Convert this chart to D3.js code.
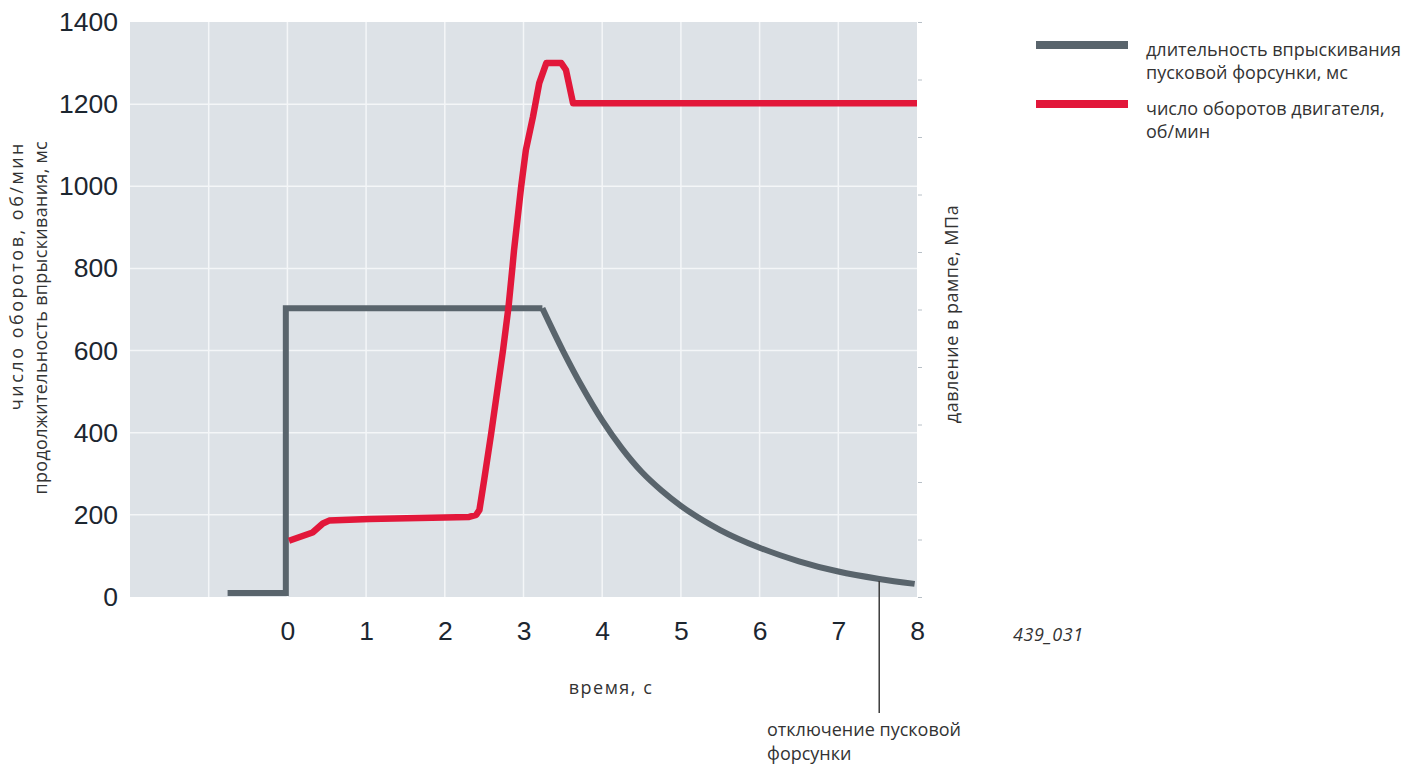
<!DOCTYPE html>
<html><head><meta charset="utf-8">
<script src="https://cdn.jsdelivr.net/npm/d3@7"></script>
<style>
html,body{margin:0;padding:0;background:#fff;}
svg{display:block;}
</style></head>
<body>
<svg id="chart" width="1404" height="767"></svg>
<script>
// ---- data ----
const xTicks = [0,1,2,3,4,5,6,7,8];
const yTicks = [0,200,400,600,800,1000,1200,1400];
const rightTicks = [0,1,2,3,4,5,6,7,8,9,10];

// injection duration of start injector (grey)
const grayT = [-0.76, -0.02, -0.02, 3.24];
const grayV = [10, 10, 703, 703];
const grayDecayT = [3.24, 3.50, 3.75, 4.00, 4.25, 4.50, 4.75, 5.00, 5.50, 6.00, 6.50, 7.00, 7.52, 7.97];
const grayDecayV = [703, 600, 510, 430, 362, 305, 260, 222, 163, 120, 87, 62, 44, 32];

// engine speed (red)
const redT = [0.02, 0.32, 0.45, 0.53, 1.04, 2.31, 2.40, 2.44, 2.50, 2.59, 2.74, 2.81, 2.86, 2.88, 2.97, 3.03, 3.12, 3.20, 3.29, 3.48, 3.54, 3.63, 8.0];
const redV = [137, 157, 179, 186, 190, 195, 200, 212, 285, 399, 601, 707, 804, 845, 999, 1088, 1169, 1251, 1300, 1300, 1283, 1202, 1202];

const legendLabels = [["длительность впрыскивания","пусковой форсунки, мс"],["число оборотов двигателя,","об/мин"]];
const legendColors = ["#59646c","#e2173a"];
const annotationT = 7.52;

// ---- drawing ----
const svg = d3.select("#chart");
const x = d3.scaleLinear().domain([-2, 8]).range([130, 917]);
const y = d3.scaleLinear().domain([0, 1400]).range([597, 22]);
const yR = d3.scaleLinear().domain([0, 10]).range([597, 22]);

const tickFont = "'Liberation Sans', Arial, sans-serif";
const textFont = "'Open Sans', 'Noto Sans', sans-serif";
const textSize = 18;

svg.append("rect").attr("x", x(-2)).attr("y", y(1400))
  .attr("width", x(8)-x(-2)).attr("height", y(0)-y(1400)).attr("fill", "#dde2e7");

// grid
svg.append("g").selectAll("line").data(d3.range(-1, 8))
  .join("line").attr("x1", d=>x(d)).attr("x2", d=>x(d)).attr("y1", y(0)).attr("y2", y(1400))
  .attr("stroke", "#f4f6f8").attr("stroke-width", 1.5);
svg.append("g").selectAll("line").data(yTicks.filter(d=>d>0 && d<1400))
  .join("line").attr("x1", x(-2)).attr("x2", x(8)).attr("y1", d=>y(d)).attr("y2", d=>y(d))
  .attr("stroke", "#f4f6f8").attr("stroke-width", 1.5);

// axes
const gl = svg.append("g").attr("transform", `translate(${x(-2)},0)`)
  .call(d3.axisLeft(y).tickValues(yTicks).tickFormat(d3.format("d")).tickSize(0).tickPadding(12));
gl.select(".domain").remove();
gl.selectAll("text").attr("font-family", tickFont).attr("font-size", 26.5).attr("fill", "#1c2630");

const gb = svg.append("g").attr("transform", `translate(0,${y(0)})`)
  .call(d3.axisBottom(x).tickValues(xTicks).tickFormat(d3.format("d")).tickSize(0).tickPadding(24));
gb.select(".domain").remove();
gb.selectAll("text").attr("font-family", tickFont).attr("font-size", 26.5).attr("fill", "#1c2630");

const gr = svg.append("g").attr("transform", `translate(${x(8)+1},0)`)
  .call(d3.axisRight(yR).tickValues(rightTicks).tickSize(4).tickFormat(""));
gr.select(".domain").remove();
gr.selectAll("line").attr("stroke", "#b8c0c7").attr("stroke-width", 1);

// lines
const line = d3.line().x(d=>x(d[0])).y(d=>y(d[1]));
const smooth = d3.line().x(d=>x(d[0])).y(d=>y(d[1])).curve(d3.curveMonotoneX);

svg.append("path").datum(grayT.map((t,i)=>[t, grayV[i]]))
  .attr("d", line).attr("fill", "none").attr("stroke", legendColors[0])
  .attr("stroke-width", 6).attr("stroke-linejoin", "miter");
svg.append("path").datum(grayDecayT.map((t,i)=>[t, grayDecayV[i]]))
  .attr("d", smooth).attr("fill", "none").attr("stroke", legendColors[0])
  .attr("stroke-width", 6).attr("stroke-linejoin", "round");

svg.append("path").datum(redT.map((t,i)=>[t, redV[i]]))
  .attr("d", line).attr("fill", "none").attr("stroke", legendColors[1])
  .attr("stroke-width", 6.5).attr("stroke-linejoin", "round");

// annotation
const annV = grayDecayV[grayDecayT.indexOf(annotationT)];
svg.append("line").attr("x1", x(annotationT)).attr("x2", x(annotationT))
  .attr("y1", y(annV)+2).attr("y2", 713).attr("stroke", "#3c3c3c").attr("stroke-width", 1.5);
const ann = svg.append("text").attr("font-family", textFont).attr("font-size", textSize).attr("fill", "#333");
ann.append("tspan").attr("x", 767).attr("y", 736).text("отключение пусковой");
ann.append("tspan").attr("x", 767).attr("y", 760).text("форсунки");

// axis titles
svg.append("text").attr("font-family", textFont).attr("font-size", textSize).attr("fill", "#333")
  .attr("letter-spacing", 1.5).attr("text-anchor", "middle").attr("x", 611).attr("y", 694).text("время, с");

const lt = svg.append("g").attr("font-family", textFont).attr("font-size", textSize).attr("fill", "#333");
lt.append("text").attr("transform", "translate(23,141) rotate(-90)").attr("text-anchor", "end")
  .attr("letter-spacing", 2.5).text("число оборотов, об/мин");
lt.append("text").attr("transform", "translate(47,141) rotate(-90)").attr("text-anchor", "end")
  .attr("letter-spacing", 0.3).text("продолжительность впрыскивания, мс");

svg.append("text").attr("font-family", textFont).attr("font-size", textSize).attr("fill", "#333")
  .attr("letter-spacing", 0.5)
  .attr("transform", "translate(958,314) rotate(-90)").attr("text-anchor", "middle").text("давление в рампе, МПа");

svg.append("text").attr("font-family", textFont).attr("font-size", textSize).attr("fill", "#333")
  .attr("font-style", "italic").attr("letter-spacing", 0.6).attr("x", 1013).attr("y", 641).text("439_031");

// legend
const leg = svg.append("g");
const legY = [45, 104];
legendLabels.forEach((lines, i) => {
  leg.append("line").attr("x1", 1036).attr("x2", 1128).attr("y1", legY[i]).attr("y2", legY[i])
    .attr("stroke", legendColors[i]).attr("stroke-width", 8);
  const t = leg.append("text").attr("font-family", textFont).attr("font-size", textSize).attr("fill", "#333");
  lines.forEach((s, j) => t.append("tspan").attr("x", 1146).attr("y", legY[i] + 11 + j*23).text(s));
});
</script>
</body></html>
